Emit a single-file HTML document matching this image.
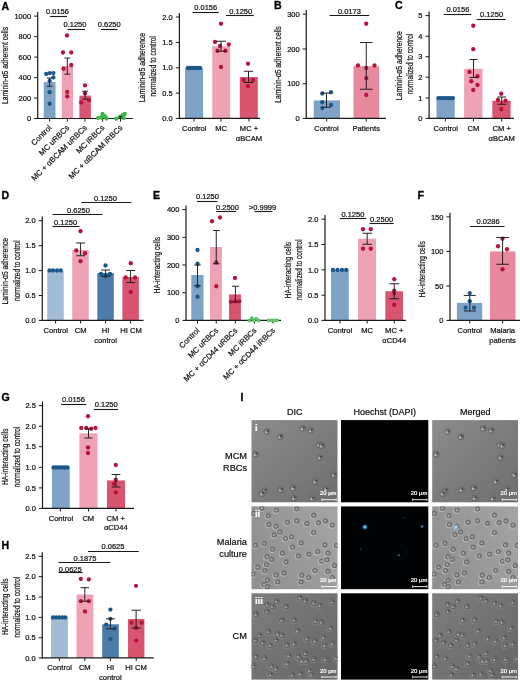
<!DOCTYPE html>
<html><head><meta charset="utf-8"><title>Figure</title>
<style>html,body{margin:0;padding:0;background:#fff;}svg{display:block;will-change:transform;}</style></head><body>
<svg width="520" height="682" viewBox="0 0 520 682" font-family='"Liberation Sans", Arial, Helvetica, sans-serif'>
<rect width="520" height="682" fill="#fff"/>
<text transform="translate(1.5,9.5) scale(1.05,1)" font-size="10.1" font-weight="bold" fill="#000" stroke="#000" stroke-width="0.3">A</text>
<text transform="translate(274.0,9.3) scale(1.05,1)" font-size="10.1" font-weight="bold" fill="#000" stroke="#000" stroke-width="0.3">B</text>
<text transform="translate(395.0,9.4) scale(1.05,1)" font-size="10.1" font-weight="bold" fill="#000" stroke="#000" stroke-width="0.3">C</text>
<text transform="translate(1.4,198.8) scale(1.05,1)" font-size="10.1" font-weight="bold" fill="#000" stroke="#000" stroke-width="0.3">D</text>
<text transform="translate(153.1,198.8) scale(1.05,1)" font-size="10.1" font-weight="bold" fill="#000" stroke="#000" stroke-width="0.3">E</text>
<text transform="translate(417.4,198.8) scale(1.05,1)" font-size="10.1" font-weight="bold" fill="#000" stroke="#000" stroke-width="0.3">F</text>
<text transform="translate(1.6,400.5) scale(1.05,1)" font-size="10.1" font-weight="bold" fill="#000" stroke="#000" stroke-width="0.3">G</text>
<text transform="translate(1.4,548.6) scale(1.05,1)" font-size="10.1" font-weight="bold" fill="#000" stroke="#000" stroke-width="0.3">H</text>
<text transform="translate(240.4,400.6) scale(1.05,1)" font-size="10.1" font-weight="bold" fill="#000" stroke="#000" stroke-width="0.3">I</text>
<rect x="43.75" y="82.00" width="11.75" height="36.50" fill="#7fa2c7"/>
<rect x="61.80" y="66.00" width="11.30" height="52.50" fill="#efa2b3"/>
<rect x="79.40" y="95.60" width="11.50" height="22.90" fill="#d9546f"/>
<line x1="37.70" y1="12.00" x2="37.70" y2="119.10" stroke="#1a1a1a" stroke-width="1.2"/>
<line x1="37.10" y1="118.50" x2="132.80" y2="118.50" stroke="#1a1a1a" stroke-width="1.2"/>
<line x1="34.10" y1="16.10" x2="37.70" y2="16.10" stroke="#1a1a1a" stroke-width="1.0"/>
<text x="31.10" y="18.75" font-size="7.5" text-anchor="end" font-weight="normal" fill="#111" stroke="#111" stroke-width="0.22" >1000</text>
<line x1="34.10" y1="36.60" x2="37.70" y2="36.60" stroke="#1a1a1a" stroke-width="1.0"/>
<text x="31.10" y="39.25" font-size="7.5" text-anchor="end" font-weight="normal" fill="#111" stroke="#111" stroke-width="0.22" >800</text>
<line x1="34.10" y1="57.10" x2="37.70" y2="57.10" stroke="#1a1a1a" stroke-width="1.0"/>
<text x="31.10" y="59.75" font-size="7.5" text-anchor="end" font-weight="normal" fill="#111" stroke="#111" stroke-width="0.22" >600</text>
<line x1="34.10" y1="77.60" x2="37.70" y2="77.60" stroke="#1a1a1a" stroke-width="1.0"/>
<text x="31.10" y="80.25" font-size="7.5" text-anchor="end" font-weight="normal" fill="#111" stroke="#111" stroke-width="0.22" >400</text>
<line x1="34.10" y1="98.10" x2="37.70" y2="98.10" stroke="#1a1a1a" stroke-width="1.0"/>
<text x="31.10" y="100.75" font-size="7.5" text-anchor="end" font-weight="normal" fill="#111" stroke="#111" stroke-width="0.22" >200</text>
<line x1="34.10" y1="118.50" x2="37.70" y2="118.50" stroke="#1a1a1a" stroke-width="1.0"/>
<text x="31.10" y="121.15" font-size="7.5" text-anchor="end" font-weight="normal" fill="#111" stroke="#111" stroke-width="0.22" >0</text>
<line x1="49.60" y1="118.50" x2="49.60" y2="121.60" stroke="#1a1a1a" stroke-width="1.0"/>
<line x1="67.30" y1="118.50" x2="67.30" y2="121.60" stroke="#1a1a1a" stroke-width="1.0"/>
<line x1="85.00" y1="118.50" x2="85.00" y2="121.60" stroke="#1a1a1a" stroke-width="1.0"/>
<line x1="102.60" y1="118.50" x2="102.60" y2="121.60" stroke="#1a1a1a" stroke-width="1.0"/>
<line x1="120.50" y1="118.50" x2="120.50" y2="121.60" stroke="#1a1a1a" stroke-width="1.0"/>
<circle cx="46.20" cy="74.00" r="2.15" fill="#1a588c"/>
<circle cx="49.75" cy="73.10" r="2.15" fill="#1a588c"/>
<circle cx="53.40" cy="73.10" r="2.15" fill="#1a588c"/>
<circle cx="53.40" cy="77.50" r="2.15" fill="#1a588c"/>
<circle cx="49.60" cy="81.00" r="2.15" fill="#1a588c"/>
<circle cx="49.60" cy="92.25" r="2.15" fill="#1a588c"/>
<circle cx="49.60" cy="103.75" r="2.15" fill="#1a588c"/>
<circle cx="67.00" cy="35.50" r="2.15" fill="#b8143b"/>
<circle cx="63.00" cy="52.50" r="2.15" fill="#b8143b"/>
<circle cx="71.25" cy="52.50" r="2.15" fill="#b8143b"/>
<circle cx="71.25" cy="65.00" r="2.15" fill="#b8143b"/>
<circle cx="63.50" cy="68.75" r="2.15" fill="#b8143b"/>
<circle cx="67.25" cy="91.90" r="2.15" fill="#b8143b"/>
<circle cx="67.25" cy="96.50" r="2.15" fill="#b8143b"/>
<circle cx="85.00" cy="85.40" r="2.15" fill="#b8143b"/>
<circle cx="85.00" cy="93.40" r="2.15" fill="#b8143b"/>
<circle cx="89.00" cy="100.00" r="2.15" fill="#b8143b"/>
<circle cx="81.25" cy="102.50" r="2.15" fill="#b8143b"/>
<circle cx="98.10" cy="118.10" r="2.15" fill="#3cb44a"/>
<circle cx="102.50" cy="114.00" r="2.15" fill="#3cb44a"/>
<circle cx="105.00" cy="116.25" r="2.15" fill="#3cb44a"/>
<circle cx="101.25" cy="117.50" r="2.15" fill="#3cb44a"/>
<circle cx="106.50" cy="118.50" r="2.15" fill="#3cb44a"/>
<circle cx="116.25" cy="118.70" r="2.15" fill="#3cb44a"/>
<circle cx="120.00" cy="116.90" r="2.15" fill="#3cb44a"/>
<circle cx="122.50" cy="115.25" r="2.15" fill="#3cb44a"/>
<circle cx="124.75" cy="114.00" r="2.15" fill="#3cb44a"/>
<circle cx="123.75" cy="118.10" r="2.15" fill="#3cb44a"/>
<line x1="49.60" y1="78.00" x2="49.60" y2="86.25" stroke="#1a1a1a" stroke-width="0.95"/>
<line x1="46.80" y1="78.00" x2="52.40" y2="78.00" stroke="#1a1a1a" stroke-width="0.95"/>
<line x1="46.80" y1="86.25" x2="52.40" y2="86.25" stroke="#1a1a1a" stroke-width="0.95"/>
<line x1="67.30" y1="58.00" x2="67.30" y2="74.10" stroke="#1a1a1a" stroke-width="0.95"/>
<line x1="64.40" y1="58.00" x2="70.20" y2="58.00" stroke="#1a1a1a" stroke-width="0.95"/>
<line x1="64.40" y1="74.10" x2="70.20" y2="74.10" stroke="#1a1a1a" stroke-width="0.95"/>
<line x1="85.10" y1="91.25" x2="85.10" y2="99.10" stroke="#1a1a1a" stroke-width="0.95"/>
<line x1="82.20" y1="91.25" x2="88.00" y2="91.25" stroke="#1a1a1a" stroke-width="0.95"/>
<line x1="82.20" y1="99.10" x2="88.00" y2="99.10" stroke="#1a1a1a" stroke-width="0.95"/>
<line x1="120.50" y1="116.40" x2="120.50" y2="118.20" stroke="#1a1a1a" stroke-width="0.95"/>
<line x1="118.90" y1="116.40" x2="122.10" y2="116.40" stroke="#1a1a1a" stroke-width="0.95"/>
<line x1="118.90" y1="118.20" x2="122.10" y2="118.20" stroke="#1a1a1a" stroke-width="0.95"/>
<text x="57.50" y="14.20" font-size="7.5" text-anchor="middle" font-weight="normal" fill="#111" stroke="#111" stroke-width="0.22" >0.0156</text>
<line x1="50.00" y1="16.50" x2="67.00" y2="16.50" stroke="#1a1a1a" stroke-width="1.1"/>
<text x="75.00" y="27.20" font-size="7.5" text-anchor="middle" font-weight="normal" fill="#111" stroke="#111" stroke-width="0.22" >0.1250</text>
<line x1="67.50" y1="29.50" x2="85.00" y2="29.50" stroke="#1a1a1a" stroke-width="1.1"/>
<text x="109.20" y="27.20" font-size="7.5" text-anchor="middle" font-weight="normal" fill="#111" stroke="#111" stroke-width="0.22" >0.6250</text>
<line x1="101.00" y1="29.50" x2="117.50" y2="29.50" stroke="#1a1a1a" stroke-width="1.1"/>
<text transform="translate(8.40,65.50) rotate(-90)" font-size="8.2" text-anchor="middle" fill="#111" stroke="#111" stroke-width="0.2" textLength="77.20" lengthAdjust="spacingAndGlyphs">Laminin-α5 adherent cells</text>
<text transform="translate(52.00,128.30) rotate(-45)" font-size="7.8" text-anchor="end" fill="#111" stroke="#111" stroke-width="0.2">Control</text>
<text transform="translate(69.70,128.30) rotate(-45)" font-size="7.8" text-anchor="end" fill="#111" stroke="#111" stroke-width="0.2">MC uRBCs</text>
<text transform="translate(87.40,128.30) rotate(-45)" font-size="7.8" text-anchor="end" fill="#111" stroke="#111" stroke-width="0.2">MC + αBCAM uRBCs</text>
<text transform="translate(105.00,128.30) rotate(-45)" font-size="7.8" text-anchor="end" fill="#111" stroke="#111" stroke-width="0.2">MC iRBCs</text>
<text transform="translate(122.90,128.30) rotate(-45)" font-size="7.8" text-anchor="end" fill="#111" stroke="#111" stroke-width="0.2">MC + αBCAM iRBCs</text>
<rect x="185.00" y="67.80" width="18.10" height="50.60" fill="#7fa2c7"/>
<rect x="212.25" y="46.25" width="17.95" height="72.15" fill="#efa2b3"/>
<rect x="239.80" y="77.00" width="18.00" height="41.40" fill="#d9546f"/>
<line x1="179.40" y1="12.90" x2="179.40" y2="119.00" stroke="#1a1a1a" stroke-width="1.2"/>
<line x1="178.80" y1="118.40" x2="260.00" y2="118.40" stroke="#1a1a1a" stroke-width="1.2"/>
<line x1="175.80" y1="17.00" x2="179.40" y2="17.00" stroke="#1a1a1a" stroke-width="1.0"/>
<text x="172.80" y="19.65" font-size="7.5" text-anchor="end" font-weight="normal" fill="#111" stroke="#111" stroke-width="0.22" >2.0</text>
<line x1="175.80" y1="42.40" x2="179.40" y2="42.40" stroke="#1a1a1a" stroke-width="1.0"/>
<text x="172.80" y="45.05" font-size="7.5" text-anchor="end" font-weight="normal" fill="#111" stroke="#111" stroke-width="0.22" >1.5</text>
<line x1="175.80" y1="67.80" x2="179.40" y2="67.80" stroke="#1a1a1a" stroke-width="1.0"/>
<text x="172.80" y="70.45" font-size="7.5" text-anchor="end" font-weight="normal" fill="#111" stroke="#111" stroke-width="0.22" >1.0</text>
<line x1="175.80" y1="93.10" x2="179.40" y2="93.10" stroke="#1a1a1a" stroke-width="1.0"/>
<text x="172.80" y="95.75" font-size="7.5" text-anchor="end" font-weight="normal" fill="#111" stroke="#111" stroke-width="0.22" >0.5</text>
<line x1="175.80" y1="118.40" x2="179.40" y2="118.40" stroke="#1a1a1a" stroke-width="1.0"/>
<text x="172.80" y="121.05" font-size="7.5" text-anchor="end" font-weight="normal" fill="#111" stroke="#111" stroke-width="0.22" >0.0</text>
<line x1="194.00" y1="118.40" x2="194.00" y2="121.50" stroke="#1a1a1a" stroke-width="1.0"/>
<line x1="221.00" y1="118.40" x2="221.00" y2="121.50" stroke="#1a1a1a" stroke-width="1.0"/>
<line x1="249.00" y1="118.40" x2="249.00" y2="121.50" stroke="#1a1a1a" stroke-width="1.0"/>
<circle cx="188.00" cy="68.00" r="2.15" fill="#1a588c"/>
<circle cx="190.00" cy="68.00" r="2.15" fill="#1a588c"/>
<circle cx="192.00" cy="68.00" r="2.15" fill="#1a588c"/>
<circle cx="194.00" cy="68.00" r="2.15" fill="#1a588c"/>
<circle cx="196.00" cy="68.00" r="2.15" fill="#1a588c"/>
<circle cx="198.00" cy="68.00" r="2.15" fill="#1a588c"/>
<circle cx="200.00" cy="68.00" r="2.15" fill="#1a588c"/>
<circle cx="221.00" cy="23.75" r="2.15" fill="#b8143b"/>
<circle cx="215.00" cy="42.00" r="2.15" fill="#b8143b"/>
<circle cx="228.75" cy="44.50" r="2.15" fill="#b8143b"/>
<circle cx="220.00" cy="46.00" r="2.15" fill="#b8143b"/>
<circle cx="217.50" cy="50.75" r="2.15" fill="#b8143b"/>
<circle cx="225.50" cy="50.75" r="2.15" fill="#b8143b"/>
<circle cx="221.00" cy="67.00" r="2.15" fill="#b8143b"/>
<circle cx="248.00" cy="63.75" r="2.15" fill="#b8143b"/>
<circle cx="243.75" cy="80.00" r="2.15" fill="#b8143b"/>
<circle cx="253.00" cy="80.00" r="2.15" fill="#b8143b"/>
<circle cx="248.00" cy="86.25" r="2.15" fill="#b8143b"/>
<line x1="221.00" y1="41.25" x2="221.00" y2="51.25" stroke="#1a1a1a" stroke-width="0.95"/>
<line x1="216.00" y1="41.25" x2="226.00" y2="41.25" stroke="#1a1a1a" stroke-width="0.95"/>
<line x1="216.00" y1="51.25" x2="226.00" y2="51.25" stroke="#1a1a1a" stroke-width="0.95"/>
<line x1="248.50" y1="71.25" x2="248.50" y2="82.50" stroke="#1a1a1a" stroke-width="0.95"/>
<line x1="243.80" y1="71.25" x2="253.20" y2="71.25" stroke="#1a1a1a" stroke-width="0.95"/>
<line x1="243.80" y1="82.50" x2="253.20" y2="82.50" stroke="#1a1a1a" stroke-width="0.95"/>
<text x="205.70" y="10.40" font-size="7.5" text-anchor="middle" font-weight="normal" fill="#111" stroke="#111" stroke-width="0.22" >0.0156</text>
<line x1="192.50" y1="12.50" x2="218.75" y2="12.50" stroke="#1a1a1a" stroke-width="1.1"/>
<text x="240.70" y="13.60" font-size="7.5" text-anchor="middle" font-weight="normal" fill="#111" stroke="#111" stroke-width="0.22" >0.1250</text>
<line x1="226.00" y1="15.50" x2="253.75" y2="15.50" stroke="#1a1a1a" stroke-width="1.1"/>
<text transform="translate(145.30,67.60) rotate(-90)" font-size="8.2" text-anchor="middle" fill="#111" stroke="#111" stroke-width="0.2" textLength="69.50" lengthAdjust="spacingAndGlyphs">Laminin-α5 adherence</text>
<text transform="translate(156.30,66.30) rotate(-90)" font-size="8.2" text-anchor="middle" fill="#111" stroke="#111" stroke-width="0.2" textLength="60.40" lengthAdjust="spacingAndGlyphs">normalized to control</text>
<text x="194.20" y="131.20" font-size="7.6" text-anchor="middle" font-weight="normal" fill="#111" stroke="#111" stroke-width="0.22" >Control</text>
<text x="221.20" y="131.20" font-size="7.6" text-anchor="middle" font-weight="normal" fill="#111" stroke="#111" stroke-width="0.22" >MC</text>
<text x="249.00" y="131.20" font-size="7.6" text-anchor="middle" font-weight="normal" fill="#111" stroke="#111" stroke-width="0.22" >MC +</text>
<text x="249.00" y="141.00" font-size="7.6" text-anchor="middle" font-weight="normal" fill="#111" stroke="#111" stroke-width="0.22" >αBCAM</text>
<rect x="313.75" y="100.40" width="26.25" height="18.00" fill="#7fa2c7"/>
<rect x="353.50" y="66.25" width="25.70" height="52.15" fill="#e8899e"/>
<line x1="306.25" y1="10.10" x2="306.25" y2="119.00" stroke="#1a1a1a" stroke-width="1.2"/>
<line x1="305.65" y1="118.40" x2="386.00" y2="118.40" stroke="#1a1a1a" stroke-width="1.2"/>
<line x1="302.65" y1="14.20" x2="306.25" y2="14.20" stroke="#1a1a1a" stroke-width="1.0"/>
<text x="299.65" y="16.85" font-size="7.5" text-anchor="end" font-weight="normal" fill="#111" stroke="#111" stroke-width="0.22" >300</text>
<line x1="302.65" y1="49.00" x2="306.25" y2="49.00" stroke="#1a1a1a" stroke-width="1.0"/>
<text x="299.65" y="51.65" font-size="7.5" text-anchor="end" font-weight="normal" fill="#111" stroke="#111" stroke-width="0.22" >200</text>
<line x1="302.65" y1="83.75" x2="306.25" y2="83.75" stroke="#1a1a1a" stroke-width="1.0"/>
<text x="299.65" y="86.40" font-size="7.5" text-anchor="end" font-weight="normal" fill="#111" stroke="#111" stroke-width="0.22" >100</text>
<line x1="302.65" y1="118.40" x2="306.25" y2="118.40" stroke="#1a1a1a" stroke-width="1.0"/>
<text x="299.65" y="121.05" font-size="7.5" text-anchor="end" font-weight="normal" fill="#111" stroke="#111" stroke-width="0.22" >0</text>
<line x1="326.70" y1="118.40" x2="326.70" y2="121.50" stroke="#1a1a1a" stroke-width="1.0"/>
<line x1="366.25" y1="118.40" x2="366.25" y2="121.50" stroke="#1a1a1a" stroke-width="1.0"/>
<circle cx="331.00" cy="92.25" r="2.15" fill="#1a588c"/>
<circle cx="322.25" cy="93.50" r="2.15" fill="#1a588c"/>
<circle cx="322.25" cy="102.25" r="2.15" fill="#1a588c"/>
<circle cx="331.00" cy="105.00" r="2.15" fill="#1a588c"/>
<circle cx="322.25" cy="108.10" r="2.15" fill="#1a588c"/>
<circle cx="366.25" cy="23.75" r="2.15" fill="#b8143b"/>
<circle cx="358.00" cy="65.50" r="2.15" fill="#b8143b"/>
<circle cx="366.25" cy="68.00" r="2.15" fill="#b8143b"/>
<circle cx="374.50" cy="65.50" r="2.15" fill="#b8143b"/>
<circle cx="366.25" cy="78.25" r="2.15" fill="#b8143b"/>
<circle cx="366.25" cy="95.00" r="2.15" fill="#b8143b"/>
<line x1="326.50" y1="93.10" x2="326.50" y2="107.25" stroke="#1a1a1a" stroke-width="0.95"/>
<line x1="322.00" y1="93.10" x2="331.00" y2="93.10" stroke="#1a1a1a" stroke-width="0.95"/>
<line x1="322.00" y1="107.25" x2="331.00" y2="107.25" stroke="#1a1a1a" stroke-width="0.95"/>
<line x1="366.25" y1="42.50" x2="366.25" y2="89.25" stroke="#1a1a1a" stroke-width="0.95"/>
<line x1="359.95" y1="42.50" x2="372.55" y2="42.50" stroke="#1a1a1a" stroke-width="0.95"/>
<line x1="359.95" y1="89.25" x2="372.55" y2="89.25" stroke="#1a1a1a" stroke-width="0.95"/>
<text x="349.40" y="13.60" font-size="7.5" text-anchor="middle" font-weight="normal" fill="#111" stroke="#111" stroke-width="0.22" >0.0173</text>
<line x1="329.50" y1="15.50" x2="369.25" y2="15.50" stroke="#1a1a1a" stroke-width="1.1"/>
<text transform="translate(280.90,64.40) rotate(-90)" font-size="8.2" text-anchor="middle" fill="#111" stroke="#111" stroke-width="0.2" textLength="76.70" lengthAdjust="spacingAndGlyphs">Laminin-α5 adherent cells</text>
<text x="326.40" y="131.20" font-size="7.6" text-anchor="middle" font-weight="normal" fill="#111" stroke="#111" stroke-width="0.22" >Control</text>
<text x="366.25" y="131.20" font-size="7.6" text-anchor="middle" font-weight="normal" fill="#111" stroke="#111" stroke-width="0.22" >Patients</text>
<rect x="436.50" y="98.00" width="18.25" height="20.40" fill="#7fa2c7"/>
<rect x="464.10" y="68.75" width="18.40" height="49.65" fill="#efa2b3"/>
<rect x="492.30" y="100.75" width="18.30" height="17.65" fill="#d9546f"/>
<line x1="429.10" y1="11.50" x2="429.10" y2="119.00" stroke="#1a1a1a" stroke-width="1.2"/>
<line x1="428.50" y1="118.40" x2="514.00" y2="118.40" stroke="#1a1a1a" stroke-width="1.2"/>
<line x1="425.50" y1="15.60" x2="429.10" y2="15.60" stroke="#1a1a1a" stroke-width="1.0"/>
<text x="422.50" y="18.25" font-size="7.5" text-anchor="end" font-weight="normal" fill="#111" stroke="#111" stroke-width="0.22" >5</text>
<line x1="425.50" y1="36.20" x2="429.10" y2="36.20" stroke="#1a1a1a" stroke-width="1.0"/>
<text x="422.50" y="38.85" font-size="7.5" text-anchor="end" font-weight="normal" fill="#111" stroke="#111" stroke-width="0.22" >4</text>
<line x1="425.50" y1="56.70" x2="429.10" y2="56.70" stroke="#1a1a1a" stroke-width="1.0"/>
<text x="422.50" y="59.35" font-size="7.5" text-anchor="end" font-weight="normal" fill="#111" stroke="#111" stroke-width="0.22" >3</text>
<line x1="425.50" y1="77.20" x2="429.10" y2="77.20" stroke="#1a1a1a" stroke-width="1.0"/>
<text x="422.50" y="79.85" font-size="7.5" text-anchor="end" font-weight="normal" fill="#111" stroke="#111" stroke-width="0.22" >2</text>
<line x1="425.50" y1="98.00" x2="429.10" y2="98.00" stroke="#1a1a1a" stroke-width="1.0"/>
<text x="422.50" y="100.65" font-size="7.5" text-anchor="end" font-weight="normal" fill="#111" stroke="#111" stroke-width="0.22" >1</text>
<line x1="425.50" y1="118.40" x2="429.10" y2="118.40" stroke="#1a1a1a" stroke-width="1.0"/>
<text x="422.50" y="121.05" font-size="7.5" text-anchor="end" font-weight="normal" fill="#111" stroke="#111" stroke-width="0.22" >0</text>
<line x1="445.40" y1="118.40" x2="445.40" y2="121.50" stroke="#1a1a1a" stroke-width="1.0"/>
<line x1="473.50" y1="118.40" x2="473.50" y2="121.50" stroke="#1a1a1a" stroke-width="1.0"/>
<line x1="501.70" y1="118.40" x2="501.70" y2="121.50" stroke="#1a1a1a" stroke-width="1.0"/>
<circle cx="438.40" cy="98.10" r="2.15" fill="#1a588c"/>
<circle cx="440.82" cy="98.10" r="2.15" fill="#1a588c"/>
<circle cx="443.24" cy="98.10" r="2.15" fill="#1a588c"/>
<circle cx="445.66" cy="98.10" r="2.15" fill="#1a588c"/>
<circle cx="448.08" cy="98.10" r="2.15" fill="#1a588c"/>
<circle cx="450.50" cy="98.10" r="2.15" fill="#1a588c"/>
<circle cx="452.92" cy="98.10" r="2.15" fill="#1a588c"/>
<circle cx="473.25" cy="25.75" r="2.15" fill="#b8143b"/>
<circle cx="473.25" cy="49.25" r="2.15" fill="#b8143b"/>
<circle cx="469.50" cy="72.00" r="2.15" fill="#b8143b"/>
<circle cx="477.50" cy="76.25" r="2.15" fill="#b8143b"/>
<circle cx="471.25" cy="81.25" r="2.15" fill="#b8143b"/>
<circle cx="477.50" cy="85.00" r="2.15" fill="#b8143b"/>
<circle cx="473.25" cy="90.00" r="2.15" fill="#b8143b"/>
<circle cx="501.25" cy="93.75" r="2.15" fill="#b8143b"/>
<circle cx="498.00" cy="100.00" r="2.15" fill="#b8143b"/>
<circle cx="505.50" cy="100.75" r="2.15" fill="#b8143b"/>
<circle cx="501.25" cy="109.25" r="2.15" fill="#b8143b"/>
<line x1="473.50" y1="59.50" x2="473.50" y2="77.50" stroke="#1a1a1a" stroke-width="0.95"/>
<line x1="469.50" y1="59.50" x2="477.50" y2="59.50" stroke="#1a1a1a" stroke-width="0.95"/>
<line x1="469.50" y1="77.50" x2="477.50" y2="77.50" stroke="#1a1a1a" stroke-width="0.95"/>
<line x1="501.70" y1="97.00" x2="501.70" y2="104.25" stroke="#1a1a1a" stroke-width="0.95"/>
<line x1="497.30" y1="97.00" x2="506.10" y2="97.00" stroke="#1a1a1a" stroke-width="0.95"/>
<line x1="497.30" y1="104.25" x2="506.10" y2="104.25" stroke="#1a1a1a" stroke-width="0.95"/>
<text x="457.90" y="12.40" font-size="7.5" text-anchor="middle" font-weight="normal" fill="#111" stroke="#111" stroke-width="0.22" >0.0156</text>
<line x1="443.75" y1="14.50" x2="471.25" y2="14.50" stroke="#1a1a1a" stroke-width="1.1"/>
<text x="491.60" y="17.40" font-size="7.5" text-anchor="middle" font-weight="normal" fill="#111" stroke="#111" stroke-width="0.22" >0.1250</text>
<line x1="476.75" y1="19.50" x2="505.75" y2="19.50" stroke="#1a1a1a" stroke-width="1.1"/>
<text transform="translate(401.80,65.70) rotate(-90)" font-size="8.2" text-anchor="middle" fill="#111" stroke="#111" stroke-width="0.2" textLength="69.10" lengthAdjust="spacingAndGlyphs">Laminin-α5 adherence</text>
<text transform="translate(413.10,64.00) rotate(-90)" font-size="8.2" text-anchor="middle" fill="#111" stroke="#111" stroke-width="0.2" textLength="60.70" lengthAdjust="spacingAndGlyphs">normalized to control</text>
<text x="445.70" y="131.20" font-size="7.6" text-anchor="middle" font-weight="normal" fill="#111" stroke="#111" stroke-width="0.22" >Control</text>
<text x="473.50" y="131.20" font-size="7.6" text-anchor="middle" font-weight="normal" fill="#111" stroke="#111" stroke-width="0.22" >CM</text>
<text x="501.70" y="131.20" font-size="7.6" text-anchor="middle" font-weight="normal" fill="#111" stroke="#111" stroke-width="0.22" >CM +</text>
<text x="501.70" y="141.00" font-size="7.6" text-anchor="middle" font-weight="normal" fill="#111" stroke="#111" stroke-width="0.22" >αBCAM</text>
<rect x="47.25" y="270.60" width="16.50" height="49.80" fill="#a3bcd6"/>
<rect x="72.25" y="250.00" width="16.50" height="70.40" fill="#efa2b3"/>
<rect x="97.30" y="273.00" width="16.50" height="47.40" fill="#4b7ba9"/>
<rect x="122.40" y="277.00" width="16.50" height="43.40" fill="#d9546f"/>
<line x1="42.25" y1="216.60" x2="42.25" y2="321.00" stroke="#1a1a1a" stroke-width="1.2"/>
<line x1="41.65" y1="320.40" x2="143.50" y2="320.40" stroke="#1a1a1a" stroke-width="1.2"/>
<line x1="38.65" y1="220.70" x2="42.25" y2="220.70" stroke="#1a1a1a" stroke-width="1.0"/>
<text x="35.65" y="223.35" font-size="7.5" text-anchor="end" font-weight="normal" fill="#111" stroke="#111" stroke-width="0.22" >2.0</text>
<line x1="38.65" y1="245.70" x2="42.25" y2="245.70" stroke="#1a1a1a" stroke-width="1.0"/>
<text x="35.65" y="248.35" font-size="7.5" text-anchor="end" font-weight="normal" fill="#111" stroke="#111" stroke-width="0.22" >1.5</text>
<line x1="38.65" y1="270.60" x2="42.25" y2="270.60" stroke="#1a1a1a" stroke-width="1.0"/>
<text x="35.65" y="273.25" font-size="7.5" text-anchor="end" font-weight="normal" fill="#111" stroke="#111" stroke-width="0.22" >1.0</text>
<line x1="38.65" y1="295.50" x2="42.25" y2="295.50" stroke="#1a1a1a" stroke-width="1.0"/>
<text x="35.65" y="298.15" font-size="7.5" text-anchor="end" font-weight="normal" fill="#111" stroke="#111" stroke-width="0.22" >0.5</text>
<line x1="38.65" y1="320.40" x2="42.25" y2="320.40" stroke="#1a1a1a" stroke-width="1.0"/>
<text x="35.65" y="323.05" font-size="7.5" text-anchor="end" font-weight="normal" fill="#111" stroke="#111" stroke-width="0.22" >0.0</text>
<line x1="55.60" y1="320.40" x2="55.60" y2="323.50" stroke="#1a1a1a" stroke-width="1.0"/>
<line x1="80.60" y1="320.40" x2="80.60" y2="323.50" stroke="#1a1a1a" stroke-width="1.0"/>
<line x1="105.60" y1="320.40" x2="105.60" y2="323.50" stroke="#1a1a1a" stroke-width="1.0"/>
<line x1="130.60" y1="320.40" x2="130.60" y2="323.50" stroke="#1a1a1a" stroke-width="1.0"/>
<circle cx="49.50" cy="270.50" r="2.15" fill="#1a588c"/>
<circle cx="53.00" cy="270.50" r="2.15" fill="#1a588c"/>
<circle cx="57.00" cy="270.50" r="2.15" fill="#1a588c"/>
<circle cx="60.75" cy="270.50" r="2.15" fill="#1a588c"/>
<circle cx="80.50" cy="231.25" r="2.15" fill="#b8143b"/>
<circle cx="76.25" cy="250.50" r="2.15" fill="#b8143b"/>
<circle cx="85.00" cy="253.25" r="2.15" fill="#b8143b"/>
<circle cx="80.50" cy="261.25" r="2.15" fill="#b8143b"/>
<circle cx="105.50" cy="265.50" r="2.15" fill="#1a588c"/>
<circle cx="101.00" cy="274.00" r="2.15" fill="#1a588c"/>
<circle cx="110.00" cy="274.00" r="2.15" fill="#1a588c"/>
<circle cx="105.50" cy="276.00" r="2.15" fill="#1a588c"/>
<circle cx="130.75" cy="263.25" r="2.15" fill="#b8143b"/>
<circle cx="125.75" cy="277.50" r="2.15" fill="#b8143b"/>
<circle cx="135.00" cy="277.50" r="2.15" fill="#b8143b"/>
<circle cx="130.75" cy="292.00" r="2.15" fill="#b8143b"/>
<line x1="80.60" y1="243.00" x2="80.60" y2="255.75" stroke="#1a1a1a" stroke-width="0.95"/>
<line x1="76.20" y1="243.00" x2="85.00" y2="243.00" stroke="#1a1a1a" stroke-width="0.95"/>
<line x1="76.20" y1="255.75" x2="85.00" y2="255.75" stroke="#1a1a1a" stroke-width="0.95"/>
<line x1="105.60" y1="270.00" x2="105.60" y2="276.25" stroke="#1a1a1a" stroke-width="0.95"/>
<line x1="101.10" y1="270.00" x2="110.10" y2="270.00" stroke="#1a1a1a" stroke-width="0.95"/>
<line x1="101.10" y1="276.25" x2="110.10" y2="276.25" stroke="#1a1a1a" stroke-width="0.95"/>
<line x1="130.60" y1="270.50" x2="130.60" y2="282.50" stroke="#1a1a1a" stroke-width="0.95"/>
<line x1="126.20" y1="270.50" x2="135.00" y2="270.50" stroke="#1a1a1a" stroke-width="0.95"/>
<line x1="126.20" y1="282.50" x2="135.00" y2="282.50" stroke="#1a1a1a" stroke-width="0.95"/>
<text x="65.60" y="225.00" font-size="7.5" text-anchor="middle" font-weight="normal" fill="#111" stroke="#111" stroke-width="0.22" >0.1250</text>
<line x1="52.50" y1="226.50" x2="79.50" y2="226.50" stroke="#1a1a1a" stroke-width="1.1"/>
<text x="78.50" y="213.00" font-size="7.5" text-anchor="middle" font-weight="normal" fill="#111" stroke="#111" stroke-width="0.22" >0.6250</text>
<line x1="52.50" y1="214.50" x2="102.50" y2="214.50" stroke="#1a1a1a" stroke-width="1.1"/>
<text x="105.40" y="201.00" font-size="7.5" text-anchor="middle" font-weight="normal" fill="#111" stroke="#111" stroke-width="0.22" >0.1250</text>
<line x1="81.25" y1="202.50" x2="131.25" y2="202.50" stroke="#1a1a1a" stroke-width="1.1"/>
<text transform="translate(8.10,271.20) rotate(-90)" font-size="8.2" text-anchor="middle" fill="#111" stroke="#111" stroke-width="0.2" textLength="66.50" lengthAdjust="spacingAndGlyphs">Laminin-α5 adherence</text>
<text transform="translate(19.60,270.60) rotate(-90)" font-size="8.2" text-anchor="middle" fill="#111" stroke="#111" stroke-width="0.2" textLength="60.60" lengthAdjust="spacingAndGlyphs">normalized to control</text>
<text x="55.70" y="332.90" font-size="7.6" text-anchor="middle" font-weight="normal" fill="#111" stroke="#111" stroke-width="0.22" >Control</text>
<text x="80.60" y="332.90" font-size="7.6" text-anchor="middle" font-weight="normal" fill="#111" stroke="#111" stroke-width="0.22" >CM</text>
<text x="105.60" y="332.90" font-size="7.6" text-anchor="middle" font-weight="normal" fill="#111" stroke="#111" stroke-width="0.22" >HI</text>
<text x="105.60" y="342.60" font-size="7.6" text-anchor="middle" font-weight="normal" fill="#111" stroke="#111" stroke-width="0.22" >control</text>
<text x="131.00" y="332.90" font-size="7.6" text-anchor="middle" font-weight="normal" fill="#111" stroke="#111" stroke-width="0.22" >HI CM</text>
<rect x="191.25" y="275.00" width="12.25" height="45.40" fill="#7fa2c7"/>
<rect x="210.00" y="247.00" width="11.90" height="73.40" fill="#efa2b3"/>
<rect x="229.00" y="294.40" width="11.90" height="26.00" fill="#d9546f"/>
<line x1="186.00" y1="205.50" x2="186.00" y2="321.00" stroke="#1a1a1a" stroke-width="1.2"/>
<line x1="185.40" y1="320.40" x2="281.00" y2="320.40" stroke="#1a1a1a" stroke-width="1.2"/>
<line x1="182.40" y1="209.60" x2="186.00" y2="209.60" stroke="#1a1a1a" stroke-width="1.0"/>
<text x="179.40" y="212.25" font-size="7.5" text-anchor="end" font-weight="normal" fill="#111" stroke="#111" stroke-width="0.22" >400</text>
<line x1="182.40" y1="237.30" x2="186.00" y2="237.30" stroke="#1a1a1a" stroke-width="1.0"/>
<text x="179.40" y="239.95" font-size="7.5" text-anchor="end" font-weight="normal" fill="#111" stroke="#111" stroke-width="0.22" >300</text>
<line x1="182.40" y1="265.00" x2="186.00" y2="265.00" stroke="#1a1a1a" stroke-width="1.0"/>
<text x="179.40" y="267.65" font-size="7.5" text-anchor="end" font-weight="normal" fill="#111" stroke="#111" stroke-width="0.22" >200</text>
<line x1="182.40" y1="292.75" x2="186.00" y2="292.75" stroke="#1a1a1a" stroke-width="1.0"/>
<text x="179.40" y="295.40" font-size="7.5" text-anchor="end" font-weight="normal" fill="#111" stroke="#111" stroke-width="0.22" >100</text>
<line x1="182.40" y1="320.40" x2="186.00" y2="320.40" stroke="#1a1a1a" stroke-width="1.0"/>
<text x="179.40" y="323.05" font-size="7.5" text-anchor="end" font-weight="normal" fill="#111" stroke="#111" stroke-width="0.22" >0</text>
<line x1="197.50" y1="320.40" x2="197.50" y2="323.50" stroke="#1a1a1a" stroke-width="1.0"/>
<line x1="216.25" y1="320.40" x2="216.25" y2="323.50" stroke="#1a1a1a" stroke-width="1.0"/>
<line x1="235.40" y1="320.40" x2="235.40" y2="323.50" stroke="#1a1a1a" stroke-width="1.0"/>
<line x1="254.50" y1="320.40" x2="254.50" y2="323.50" stroke="#1a1a1a" stroke-width="1.0"/>
<line x1="273.00" y1="320.40" x2="273.00" y2="323.50" stroke="#1a1a1a" stroke-width="1.0"/>
<circle cx="197.50" cy="250.00" r="2.15" fill="#1a588c"/>
<circle cx="197.50" cy="263.75" r="2.15" fill="#1a588c"/>
<circle cx="197.50" cy="286.25" r="2.15" fill="#1a588c"/>
<circle cx="197.50" cy="296.75" r="2.15" fill="#1a588c"/>
<circle cx="212.00" cy="221.25" r="2.15" fill="#b8143b"/>
<circle cx="220.00" cy="217.50" r="2.15" fill="#b8143b"/>
<circle cx="216.25" cy="262.50" r="2.15" fill="#b8143b"/>
<circle cx="216.25" cy="286.25" r="2.15" fill="#b8143b"/>
<circle cx="235.00" cy="278.00" r="2.15" fill="#b8143b"/>
<circle cx="230.80" cy="301.80" r="2.15" fill="#b8143b"/>
<circle cx="239.30" cy="301.30" r="2.15" fill="#b8143b"/>
<circle cx="235.20" cy="301.30" r="2.15" fill="#b8143b"/>
<circle cx="249.40" cy="320.60" r="1.45" fill="#7fcf86" stroke="#3cb44a" stroke-width="0.9"/>
<circle cx="251.90" cy="318.20" r="1.45" fill="#7fcf86" stroke="#3cb44a" stroke-width="0.9"/>
<circle cx="254.00" cy="320.60" r="1.45" fill="#7fcf86" stroke="#3cb44a" stroke-width="0.9"/>
<circle cx="256.25" cy="318.80" r="1.45" fill="#7fcf86" stroke="#3cb44a" stroke-width="0.9"/>
<circle cx="258.50" cy="320.60" r="1.45" fill="#7fcf86" stroke="#3cb44a" stroke-width="0.9"/>
<circle cx="268.75" cy="320.50" r="1.45" fill="#7fcf86" stroke="#3cb44a" stroke-width="0.9"/>
<circle cx="271.90" cy="320.40" r="1.45" fill="#7fcf86" stroke="#3cb44a" stroke-width="0.9"/>
<circle cx="274.40" cy="320.50" r="1.45" fill="#7fcf86" stroke="#3cb44a" stroke-width="0.9"/>
<circle cx="276.90" cy="320.40" r="1.45" fill="#7fcf86" stroke="#3cb44a" stroke-width="0.9"/>
<line x1="197.50" y1="265.00" x2="197.50" y2="285.75" stroke="#1a1a1a" stroke-width="0.95"/>
<line x1="194.30" y1="265.00" x2="200.70" y2="265.00" stroke="#1a1a1a" stroke-width="0.95"/>
<line x1="194.30" y1="285.75" x2="200.70" y2="285.75" stroke="#1a1a1a" stroke-width="0.95"/>
<line x1="216.25" y1="230.50" x2="216.25" y2="263.75" stroke="#1a1a1a" stroke-width="0.95"/>
<line x1="212.95" y1="230.50" x2="219.55" y2="230.50" stroke="#1a1a1a" stroke-width="0.95"/>
<line x1="212.95" y1="263.75" x2="219.55" y2="263.75" stroke="#1a1a1a" stroke-width="0.95"/>
<line x1="235.40" y1="286.25" x2="235.40" y2="302.00" stroke="#1a1a1a" stroke-width="0.95"/>
<line x1="232.00" y1="286.25" x2="238.80" y2="286.25" stroke="#1a1a1a" stroke-width="0.95"/>
<line x1="232.00" y1="302.00" x2="238.80" y2="302.00" stroke="#1a1a1a" stroke-width="0.95"/>
<text x="207.50" y="199.20" font-size="7.5" text-anchor="middle" font-weight="normal" fill="#111" stroke="#111" stroke-width="0.22" >0.1250</text>
<line x1="197.00" y1="201.50" x2="217.50" y2="201.50" stroke="#1a1a1a" stroke-width="1.1"/>
<text x="227.50" y="209.70" font-size="7.5" text-anchor="middle" font-weight="normal" fill="#111" stroke="#111" stroke-width="0.22" >0.2500</text>
<line x1="216.25" y1="211.50" x2="236.25" y2="211.50" stroke="#1a1a1a" stroke-width="1.1"/>
<text x="262.50" y="209.70" font-size="7.5" text-anchor="middle" font-weight="normal" fill="#111" stroke="#111" stroke-width="0.22" >&gt;0.9999</text>
<line x1="254.50" y1="211.50" x2="272.50" y2="211.50" stroke="#1a1a1a" stroke-width="1.1"/>
<text transform="translate(160.30,265.10) rotate(-90)" font-size="8.2" text-anchor="middle" fill="#111" stroke="#111" stroke-width="0.2" textLength="56.40" lengthAdjust="spacingAndGlyphs">HA-interacting cells</text>
<text transform="translate(200.10,330.90) rotate(-45)" font-size="7.8" text-anchor="end" fill="#111" stroke="#111" stroke-width="0.2">Control</text>
<text transform="translate(218.85,330.90) rotate(-45)" font-size="7.8" text-anchor="end" fill="#111" stroke="#111" stroke-width="0.2">MC uRBCs</text>
<text transform="translate(238.00,330.90) rotate(-45)" font-size="7.8" text-anchor="end" fill="#111" stroke="#111" stroke-width="0.2">MC + αCD44 uRBCs</text>
<text transform="translate(257.10,330.90) rotate(-45)" font-size="7.8" text-anchor="end" fill="#111" stroke="#111" stroke-width="0.2">MC iRBCs</text>
<text transform="translate(275.60,330.90) rotate(-45)" font-size="7.8" text-anchor="end" fill="#111" stroke="#111" stroke-width="0.2">MC + αCD44 iRBCs</text>
<rect x="331.00" y="269.90" width="17.75" height="50.50" fill="#7fa2c7"/>
<rect x="358.10" y="238.75" width="17.90" height="81.65" fill="#efa2b3"/>
<rect x="385.30" y="291.25" width="17.70" height="29.15" fill="#d9546f"/>
<line x1="325.00" y1="215.10" x2="325.00" y2="321.00" stroke="#1a1a1a" stroke-width="1.2"/>
<line x1="324.40" y1="320.40" x2="406.00" y2="320.40" stroke="#1a1a1a" stroke-width="1.2"/>
<line x1="321.40" y1="219.20" x2="325.00" y2="219.20" stroke="#1a1a1a" stroke-width="1.0"/>
<text x="318.40" y="221.85" font-size="7.5" text-anchor="end" font-weight="normal" fill="#111" stroke="#111" stroke-width="0.22" >2.0</text>
<line x1="321.40" y1="244.50" x2="325.00" y2="244.50" stroke="#1a1a1a" stroke-width="1.0"/>
<text x="318.40" y="247.15" font-size="7.5" text-anchor="end" font-weight="normal" fill="#111" stroke="#111" stroke-width="0.22" >1.5</text>
<line x1="321.40" y1="269.90" x2="325.00" y2="269.90" stroke="#1a1a1a" stroke-width="1.0"/>
<text x="318.40" y="272.55" font-size="7.5" text-anchor="end" font-weight="normal" fill="#111" stroke="#111" stroke-width="0.22" >1.0</text>
<line x1="321.40" y1="295.20" x2="325.00" y2="295.20" stroke="#1a1a1a" stroke-width="1.0"/>
<text x="318.40" y="297.85" font-size="7.5" text-anchor="end" font-weight="normal" fill="#111" stroke="#111" stroke-width="0.22" >0.5</text>
<line x1="321.40" y1="320.40" x2="325.00" y2="320.40" stroke="#1a1a1a" stroke-width="1.0"/>
<text x="318.40" y="323.05" font-size="7.5" text-anchor="end" font-weight="normal" fill="#111" stroke="#111" stroke-width="0.22" >0.0</text>
<line x1="340.00" y1="320.40" x2="340.00" y2="323.50" stroke="#1a1a1a" stroke-width="1.0"/>
<line x1="367.20" y1="320.40" x2="367.20" y2="323.50" stroke="#1a1a1a" stroke-width="1.0"/>
<line x1="394.25" y1="320.40" x2="394.25" y2="323.50" stroke="#1a1a1a" stroke-width="1.0"/>
<circle cx="333.00" cy="270.00" r="2.15" fill="#1a588c"/>
<circle cx="337.50" cy="270.00" r="2.15" fill="#1a588c"/>
<circle cx="342.00" cy="270.00" r="2.15" fill="#1a588c"/>
<circle cx="346.25" cy="270.00" r="2.15" fill="#1a588c"/>
<circle cx="363.00" cy="229.25" r="2.15" fill="#b8143b"/>
<circle cx="370.75" cy="229.25" r="2.15" fill="#b8143b"/>
<circle cx="363.00" cy="248.75" r="2.15" fill="#b8143b"/>
<circle cx="370.75" cy="248.75" r="2.15" fill="#b8143b"/>
<circle cx="394.25" cy="279.25" r="2.15" fill="#b8143b"/>
<circle cx="394.25" cy="290.75" r="2.15" fill="#b8143b"/>
<circle cx="394.25" cy="293.00" r="2.15" fill="#b8143b"/>
<circle cx="394.25" cy="305.00" r="2.15" fill="#b8143b"/>
<line x1="367.20" y1="233.25" x2="367.20" y2="244.25" stroke="#1a1a1a" stroke-width="0.95"/>
<line x1="362.40" y1="233.25" x2="372.00" y2="233.25" stroke="#1a1a1a" stroke-width="0.95"/>
<line x1="362.40" y1="244.25" x2="372.00" y2="244.25" stroke="#1a1a1a" stroke-width="0.95"/>
<line x1="394.25" y1="283.75" x2="394.25" y2="298.75" stroke="#1a1a1a" stroke-width="0.95"/>
<line x1="389.45" y1="283.75" x2="399.05" y2="283.75" stroke="#1a1a1a" stroke-width="0.95"/>
<line x1="389.45" y1="298.75" x2="399.05" y2="298.75" stroke="#1a1a1a" stroke-width="0.95"/>
<text x="352.90" y="217.00" font-size="7.5" text-anchor="middle" font-weight="normal" fill="#111" stroke="#111" stroke-width="0.22" >0.1250</text>
<line x1="340.00" y1="218.50" x2="366.25" y2="218.50" stroke="#1a1a1a" stroke-width="1.1"/>
<text x="381.60" y="221.60" font-size="7.5" text-anchor="middle" font-weight="normal" fill="#111" stroke="#111" stroke-width="0.22" >0.2500</text>
<line x1="369.50" y1="223.50" x2="393.75" y2="223.50" stroke="#1a1a1a" stroke-width="1.1"/>
<text transform="translate(291.00,270.10) rotate(-90)" font-size="8.2" text-anchor="middle" fill="#111" stroke="#111" stroke-width="0.2" textLength="56.40" lengthAdjust="spacingAndGlyphs">HA-interacting cells</text>
<text transform="translate(302.40,269.70) rotate(-90)" font-size="8.2" text-anchor="middle" fill="#111" stroke="#111" stroke-width="0.2" textLength="60.60" lengthAdjust="spacingAndGlyphs">normalized to control</text>
<text x="340.00" y="332.90" font-size="7.6" text-anchor="middle" font-weight="normal" fill="#111" stroke="#111" stroke-width="0.22" >Control</text>
<text x="367.20" y="332.90" font-size="7.6" text-anchor="middle" font-weight="normal" fill="#111" stroke="#111" stroke-width="0.22" >MC</text>
<text x="394.25" y="332.90" font-size="7.6" text-anchor="middle" font-weight="normal" fill="#111" stroke="#111" stroke-width="0.22" >MC +</text>
<text x="394.25" y="342.60" font-size="7.6" text-anchor="middle" font-weight="normal" fill="#111" stroke="#111" stroke-width="0.22" >αCD44</text>
<rect x="456.90" y="302.90" width="25.35" height="17.50" fill="#7fa2c7"/>
<rect x="490.00" y="251.40" width="25.50" height="69.00" fill="#e8899e"/>
<line x1="450.00" y1="212.80" x2="450.00" y2="321.00" stroke="#1a1a1a" stroke-width="1.2"/>
<line x1="449.40" y1="320.40" x2="520.00" y2="320.40" stroke="#1a1a1a" stroke-width="1.2"/>
<line x1="446.40" y1="216.90" x2="450.00" y2="216.90" stroke="#1a1a1a" stroke-width="1.0"/>
<text x="443.40" y="219.55" font-size="7.5" text-anchor="end" font-weight="normal" fill="#111" stroke="#111" stroke-width="0.22" >150</text>
<line x1="446.40" y1="251.40" x2="450.00" y2="251.40" stroke="#1a1a1a" stroke-width="1.0"/>
<text x="443.40" y="254.05" font-size="7.5" text-anchor="end" font-weight="normal" fill="#111" stroke="#111" stroke-width="0.22" >100</text>
<line x1="446.40" y1="286.00" x2="450.00" y2="286.00" stroke="#1a1a1a" stroke-width="1.0"/>
<text x="443.40" y="288.65" font-size="7.5" text-anchor="end" font-weight="normal" fill="#111" stroke="#111" stroke-width="0.22" >50</text>
<line x1="446.40" y1="320.40" x2="450.00" y2="320.40" stroke="#1a1a1a" stroke-width="1.0"/>
<text x="443.40" y="323.05" font-size="7.5" text-anchor="end" font-weight="normal" fill="#111" stroke="#111" stroke-width="0.22" >0</text>
<line x1="469.80" y1="320.40" x2="469.80" y2="323.50" stroke="#1a1a1a" stroke-width="1.0"/>
<line x1="502.60" y1="320.40" x2="502.60" y2="323.50" stroke="#1a1a1a" stroke-width="1.0"/>
<circle cx="469.75" cy="293.10" r="2.15" fill="#1a588c"/>
<circle cx="469.75" cy="301.25" r="2.15" fill="#1a588c"/>
<circle cx="465.60" cy="307.75" r="2.15" fill="#1a588c"/>
<circle cx="474.00" cy="307.75" r="2.15" fill="#1a588c"/>
<circle cx="502.50" cy="238.75" r="2.15" fill="#b8143b"/>
<circle cx="498.00" cy="246.25" r="2.15" fill="#b8143b"/>
<circle cx="507.00" cy="249.25" r="2.15" fill="#b8143b"/>
<circle cx="502.50" cy="269.25" r="2.15" fill="#b8143b"/>
<line x1="469.80" y1="295.40" x2="469.80" y2="311.00" stroke="#1a1a1a" stroke-width="0.95"/>
<line x1="463.80" y1="295.40" x2="475.80" y2="295.40" stroke="#1a1a1a" stroke-width="0.95"/>
<line x1="463.80" y1="311.00" x2="475.80" y2="311.00" stroke="#1a1a1a" stroke-width="0.95"/>
<line x1="502.60" y1="237.50" x2="502.60" y2="264.25" stroke="#1a1a1a" stroke-width="0.95"/>
<line x1="496.30" y1="237.50" x2="508.90" y2="237.50" stroke="#1a1a1a" stroke-width="0.95"/>
<line x1="496.30" y1="264.25" x2="508.90" y2="264.25" stroke="#1a1a1a" stroke-width="0.95"/>
<text x="488.10" y="224.20" font-size="7.5" text-anchor="middle" font-weight="normal" fill="#111" stroke="#111" stroke-width="0.22" >0.0286</text>
<line x1="470.00" y1="226.50" x2="504.50" y2="226.50" stroke="#1a1a1a" stroke-width="1.1"/>
<text transform="translate(425.00,269.30) rotate(-90)" font-size="8.2" text-anchor="middle" fill="#111" stroke="#111" stroke-width="0.2" textLength="56.40" lengthAdjust="spacingAndGlyphs">HA-interacting cells</text>
<text x="469.70" y="332.90" font-size="7.6" text-anchor="middle" font-weight="normal" fill="#111" stroke="#111" stroke-width="0.22" >Control</text>
<text x="502.60" y="332.90" font-size="7.6" text-anchor="middle" font-weight="normal" fill="#111" stroke="#111" stroke-width="0.22" >Malaria</text>
<text x="502.60" y="342.60" font-size="7.6" text-anchor="middle" font-weight="normal" fill="#111" stroke="#111" stroke-width="0.22" >patients</text>
<rect x="51.90" y="467.30" width="17.85" height="41.10" fill="#7fa2c7"/>
<rect x="79.40" y="433.30" width="18.10" height="75.10" fill="#efa2b3"/>
<rect x="107.00" y="480.40" width="18.00" height="28.00" fill="#d9546f"/>
<line x1="42.50" y1="401.50" x2="42.50" y2="509.00" stroke="#1a1a1a" stroke-width="1.2"/>
<line x1="41.90" y1="508.40" x2="134.00" y2="508.40" stroke="#1a1a1a" stroke-width="1.2"/>
<line x1="38.90" y1="405.60" x2="42.50" y2="405.60" stroke="#1a1a1a" stroke-width="1.0"/>
<text x="35.90" y="408.25" font-size="7.5" text-anchor="end" font-weight="normal" fill="#111" stroke="#111" stroke-width="0.22" >2.5</text>
<line x1="38.90" y1="426.20" x2="42.50" y2="426.20" stroke="#1a1a1a" stroke-width="1.0"/>
<text x="35.90" y="428.85" font-size="7.5" text-anchor="end" font-weight="normal" fill="#111" stroke="#111" stroke-width="0.22" >2.0</text>
<line x1="38.90" y1="446.70" x2="42.50" y2="446.70" stroke="#1a1a1a" stroke-width="1.0"/>
<text x="35.90" y="449.35" font-size="7.5" text-anchor="end" font-weight="normal" fill="#111" stroke="#111" stroke-width="0.22" >1.5</text>
<line x1="38.90" y1="467.30" x2="42.50" y2="467.30" stroke="#1a1a1a" stroke-width="1.0"/>
<text x="35.90" y="469.95" font-size="7.5" text-anchor="end" font-weight="normal" fill="#111" stroke="#111" stroke-width="0.22" >1.0</text>
<line x1="38.90" y1="487.90" x2="42.50" y2="487.90" stroke="#1a1a1a" stroke-width="1.0"/>
<text x="35.90" y="490.55" font-size="7.5" text-anchor="end" font-weight="normal" fill="#111" stroke="#111" stroke-width="0.22" >0.5</text>
<line x1="38.90" y1="508.40" x2="42.50" y2="508.40" stroke="#1a1a1a" stroke-width="1.0"/>
<text x="35.90" y="511.05" font-size="7.5" text-anchor="end" font-weight="normal" fill="#111" stroke="#111" stroke-width="0.22" >0.0</text>
<line x1="60.40" y1="508.40" x2="60.40" y2="511.50" stroke="#1a1a1a" stroke-width="1.0"/>
<line x1="88.50" y1="508.40" x2="88.50" y2="511.50" stroke="#1a1a1a" stroke-width="1.0"/>
<line x1="116.00" y1="508.40" x2="116.00" y2="511.50" stroke="#1a1a1a" stroke-width="1.0"/>
<circle cx="53.50" cy="467.50" r="2.15" fill="#1a588c"/>
<circle cx="55.83" cy="467.50" r="2.15" fill="#1a588c"/>
<circle cx="58.16" cy="467.50" r="2.15" fill="#1a588c"/>
<circle cx="60.49" cy="467.50" r="2.15" fill="#1a588c"/>
<circle cx="62.82" cy="467.50" r="2.15" fill="#1a588c"/>
<circle cx="65.15" cy="467.50" r="2.15" fill="#1a588c"/>
<circle cx="67.48" cy="467.50" r="2.15" fill="#1a588c"/>
<circle cx="88.00" cy="416.25" r="2.15" fill="#b8143b"/>
<circle cx="81.25" cy="428.00" r="2.15" fill="#b8143b"/>
<circle cx="86.25" cy="428.00" r="2.15" fill="#b8143b"/>
<circle cx="91.25" cy="428.75" r="2.15" fill="#b8143b"/>
<circle cx="95.50" cy="428.00" r="2.15" fill="#b8143b"/>
<circle cx="88.00" cy="447.50" r="2.15" fill="#b8143b"/>
<circle cx="88.00" cy="453.00" r="2.15" fill="#b8143b"/>
<circle cx="115.75" cy="465.00" r="2.15" fill="#b8143b"/>
<circle cx="115.75" cy="480.00" r="2.15" fill="#b8143b"/>
<circle cx="114.00" cy="484.00" r="2.15" fill="#b8143b"/>
<circle cx="115.75" cy="492.50" r="2.15" fill="#b8143b"/>
<line x1="88.50" y1="428.75" x2="88.50" y2="438.00" stroke="#1a1a1a" stroke-width="0.95"/>
<line x1="84.50" y1="428.75" x2="92.50" y2="428.75" stroke="#1a1a1a" stroke-width="0.95"/>
<line x1="84.50" y1="438.00" x2="92.50" y2="438.00" stroke="#1a1a1a" stroke-width="0.95"/>
<line x1="116.00" y1="474.50" x2="116.00" y2="487.00" stroke="#1a1a1a" stroke-width="0.95"/>
<line x1="111.70" y1="474.50" x2="120.30" y2="474.50" stroke="#1a1a1a" stroke-width="0.95"/>
<line x1="111.70" y1="487.00" x2="120.30" y2="487.00" stroke="#1a1a1a" stroke-width="0.95"/>
<text x="73.50" y="402.40" font-size="7.5" text-anchor="middle" font-weight="normal" fill="#111" stroke="#111" stroke-width="0.22" >0.0156</text>
<line x1="61.25" y1="404.50" x2="86.25" y2="404.50" stroke="#1a1a1a" stroke-width="1.1"/>
<text x="106.20" y="407.40" font-size="7.5" text-anchor="middle" font-weight="normal" fill="#111" stroke="#111" stroke-width="0.22" >0.1250</text>
<line x1="93.75" y1="409.50" x2="118.00" y2="409.50" stroke="#1a1a1a" stroke-width="1.1"/>
<text transform="translate(7.70,456.80) rotate(-90)" font-size="8.2" text-anchor="middle" fill="#111" stroke="#111" stroke-width="0.2" textLength="56.40" lengthAdjust="spacingAndGlyphs">HA-interacting cells</text>
<text transform="translate(19.80,456.90) rotate(-90)" font-size="8.2" text-anchor="middle" fill="#111" stroke="#111" stroke-width="0.2" textLength="60.60" lengthAdjust="spacingAndGlyphs">normalized to control</text>
<text x="60.90" y="520.60" font-size="7.6" text-anchor="middle" font-weight="normal" fill="#111" stroke="#111" stroke-width="0.22" >Control</text>
<text x="88.30" y="520.60" font-size="7.6" text-anchor="middle" font-weight="normal" fill="#111" stroke="#111" stroke-width="0.22" >CM</text>
<text x="115.80" y="520.60" font-size="7.6" text-anchor="middle" font-weight="normal" fill="#111" stroke="#111" stroke-width="0.22" >CM +</text>
<text x="115.80" y="530.30" font-size="7.6" text-anchor="middle" font-weight="normal" fill="#111" stroke="#111" stroke-width="0.22" >αCD44</text>
<rect x="51.00" y="617.40" width="16.90" height="40.50" fill="#a3bcd6"/>
<rect x="76.50" y="594.50" width="16.80" height="63.40" fill="#efa2b3"/>
<rect x="102.20" y="624.30" width="16.60" height="33.60" fill="#4b7ba9"/>
<rect x="128.00" y="619.00" width="16.40" height="38.90" fill="#d9546f"/>
<line x1="42.25" y1="552.20" x2="42.25" y2="658.50" stroke="#1a1a1a" stroke-width="1.2"/>
<line x1="41.65" y1="657.90" x2="153.70" y2="657.90" stroke="#1a1a1a" stroke-width="1.2"/>
<line x1="38.65" y1="556.30" x2="42.25" y2="556.30" stroke="#1a1a1a" stroke-width="1.0"/>
<text x="35.65" y="558.95" font-size="7.5" text-anchor="end" font-weight="normal" fill="#111" stroke="#111" stroke-width="0.22" >2.5</text>
<line x1="38.65" y1="576.60" x2="42.25" y2="576.60" stroke="#1a1a1a" stroke-width="1.0"/>
<text x="35.65" y="579.25" font-size="7.5" text-anchor="end" font-weight="normal" fill="#111" stroke="#111" stroke-width="0.22" >2.0</text>
<line x1="38.65" y1="597.00" x2="42.25" y2="597.00" stroke="#1a1a1a" stroke-width="1.0"/>
<text x="35.65" y="599.65" font-size="7.5" text-anchor="end" font-weight="normal" fill="#111" stroke="#111" stroke-width="0.22" >1.5</text>
<line x1="38.65" y1="617.40" x2="42.25" y2="617.40" stroke="#1a1a1a" stroke-width="1.0"/>
<text x="35.65" y="620.05" font-size="7.5" text-anchor="end" font-weight="normal" fill="#111" stroke="#111" stroke-width="0.22" >1.0</text>
<line x1="38.65" y1="637.80" x2="42.25" y2="637.80" stroke="#1a1a1a" stroke-width="1.0"/>
<text x="35.65" y="640.45" font-size="7.5" text-anchor="end" font-weight="normal" fill="#111" stroke="#111" stroke-width="0.22" >0.5</text>
<line x1="38.65" y1="657.90" x2="42.25" y2="657.90" stroke="#1a1a1a" stroke-width="1.0"/>
<text x="35.65" y="660.55" font-size="7.5" text-anchor="end" font-weight="normal" fill="#111" stroke="#111" stroke-width="0.22" >0.0</text>
<line x1="59.40" y1="657.90" x2="59.40" y2="661.00" stroke="#1a1a1a" stroke-width="1.0"/>
<line x1="84.80" y1="657.90" x2="84.80" y2="661.00" stroke="#1a1a1a" stroke-width="1.0"/>
<line x1="110.40" y1="657.90" x2="110.40" y2="661.00" stroke="#1a1a1a" stroke-width="1.0"/>
<line x1="136.20" y1="657.90" x2="136.20" y2="661.00" stroke="#1a1a1a" stroke-width="1.0"/>
<circle cx="53.00" cy="617.50" r="2.15" fill="#1a588c"/>
<circle cx="56.10" cy="617.50" r="2.15" fill="#1a588c"/>
<circle cx="59.20" cy="617.50" r="2.15" fill="#1a588c"/>
<circle cx="62.30" cy="617.50" r="2.15" fill="#1a588c"/>
<circle cx="65.40" cy="617.50" r="2.15" fill="#1a588c"/>
<circle cx="80.80" cy="579.00" r="2.15" fill="#b8143b"/>
<circle cx="88.80" cy="579.40" r="2.15" fill="#b8143b"/>
<circle cx="80.80" cy="601.20" r="2.15" fill="#b8143b"/>
<circle cx="88.80" cy="601.20" r="2.15" fill="#b8143b"/>
<circle cx="85.00" cy="611.50" r="2.15" fill="#b8143b"/>
<circle cx="110.40" cy="609.60" r="2.15" fill="#1a588c"/>
<circle cx="110.40" cy="618.80" r="2.15" fill="#1a588c"/>
<circle cx="106.20" cy="624.60" r="2.15" fill="#1a588c"/>
<circle cx="114.80" cy="628.50" r="2.15" fill="#1a588c"/>
<circle cx="110.40" cy="639.00" r="2.15" fill="#1a588c"/>
<circle cx="136.00" cy="585.80" r="2.15" fill="#b8143b"/>
<circle cx="131.50" cy="622.70" r="2.15" fill="#b8143b"/>
<circle cx="141.70" cy="622.70" r="2.15" fill="#b8143b"/>
<circle cx="136.00" cy="628.00" r="2.15" fill="#b8143b"/>
<circle cx="136.20" cy="640.60" r="2.15" fill="#b8143b"/>
<line x1="84.80" y1="587.70" x2="84.80" y2="601.20" stroke="#1a1a1a" stroke-width="0.95"/>
<line x1="80.60" y1="587.70" x2="89.00" y2="587.70" stroke="#1a1a1a" stroke-width="0.95"/>
<line x1="80.60" y1="601.20" x2="89.00" y2="601.20" stroke="#1a1a1a" stroke-width="0.95"/>
<line x1="110.40" y1="618.80" x2="110.40" y2="628.80" stroke="#1a1a1a" stroke-width="0.95"/>
<line x1="106.00" y1="618.80" x2="114.80" y2="618.80" stroke="#1a1a1a" stroke-width="0.95"/>
<line x1="106.00" y1="628.80" x2="114.80" y2="628.80" stroke="#1a1a1a" stroke-width="0.95"/>
<line x1="136.10" y1="610.20" x2="136.10" y2="628.00" stroke="#1a1a1a" stroke-width="0.95"/>
<line x1="131.40" y1="610.20" x2="140.80" y2="610.20" stroke="#1a1a1a" stroke-width="0.95"/>
<line x1="131.40" y1="628.00" x2="140.80" y2="628.00" stroke="#1a1a1a" stroke-width="0.95"/>
<text x="70.20" y="571.80" font-size="7.5" text-anchor="middle" font-weight="normal" fill="#111" stroke="#111" stroke-width="0.22" >0.0625</text>
<line x1="58.50" y1="572.50" x2="82.70" y2="572.50" stroke="#1a1a1a" stroke-width="1.1"/>
<text x="85.00" y="561.20" font-size="7.5" text-anchor="middle" font-weight="normal" fill="#111" stroke="#111" stroke-width="0.22" >0.1875</text>
<line x1="58.50" y1="562.50" x2="110.40" y2="562.50" stroke="#1a1a1a" stroke-width="1.1"/>
<text x="113.00" y="549.30" font-size="7.5" text-anchor="middle" font-weight="normal" fill="#111" stroke="#111" stroke-width="0.22" >0.0625</text>
<line x1="87.90" y1="551.50" x2="138.80" y2="551.50" stroke="#1a1a1a" stroke-width="1.1"/>
<text transform="translate(7.70,606.80) rotate(-90)" font-size="8.2" text-anchor="middle" fill="#111" stroke="#111" stroke-width="0.2" textLength="56.40" lengthAdjust="spacingAndGlyphs">HA-interacting cells</text>
<text transform="translate(19.80,607.00) rotate(-90)" font-size="8.2" text-anchor="middle" fill="#111" stroke="#111" stroke-width="0.2" textLength="60.80" lengthAdjust="spacingAndGlyphs">normalized to control</text>
<text x="59.60" y="670.40" font-size="7.6" text-anchor="middle" font-weight="normal" fill="#111" stroke="#111" stroke-width="0.22" >Control</text>
<text x="84.80" y="670.40" font-size="7.6" text-anchor="middle" font-weight="normal" fill="#111" stroke="#111" stroke-width="0.22" >CM</text>
<text x="110.30" y="670.30" font-size="7.6" text-anchor="middle" font-weight="normal" fill="#111" stroke="#111" stroke-width="0.22" >HI</text>
<text x="110.30" y="679.60" font-size="7.6" text-anchor="middle" font-weight="normal" fill="#111" stroke="#111" stroke-width="0.22" >control</text>
<text x="136.10" y="670.30" font-size="7.6" text-anchor="middle" font-weight="normal" fill="#111" stroke="#111" stroke-width="0.22" >HI CM</text>
<defs>
<linearGradient id="g1" x1="0" y1="0" x2="1" y2="1"><stop offset="0" stop-color="#8c8c8c"/><stop offset="1" stop-color="#6e6e6e"/></linearGradient>
<linearGradient id="g2" x1="0" y1="0.7" x2="1" y2="0.3"><stop offset="0" stop-color="#8f8f8f"/><stop offset="1" stop-color="#a3a3a3"/></linearGradient>
<linearGradient id="g3" x1="0" y1="0" x2="1" y2="1"><stop offset="0" stop-color="#7e7e7e"/><stop offset="1" stop-color="#666666"/></linearGradient>
<radialGradient id="bl"><stop offset="0" stop-color="#a6dcfa"/><stop offset="0.3" stop-color="#5aa9e0"/><stop offset="0.55" stop-color="#1c5a96" stop-opacity="0.8"/><stop offset="1" stop-color="#0a2a60" stop-opacity="0"/></radialGradient>
<g id="k1"><circle r="2.9" fill="#808080" stroke="#5e5e5e" stroke-width="0.9" opacity="0.9"/><circle cx="-1.0" cy="0.8" r="1.1" fill="#bcbcbc"/><circle cx="0.9" cy="-0.7" r="1.15" fill="#484848"/></g>
<g id="k2"><circle cx="-0.6" cy="0.6" r="3.2" fill="#c2c2c2" opacity="0.7"/><circle r="2.7" fill="#6c6c6c"/><circle cx="-0.1" cy="0.1" r="1.35" fill="#a0a0a0"/></g>
<g id="k3"><circle cx="-0.6" cy="0.6" r="3.4" fill="#969696" opacity="0.5"/><circle r="2.65" fill="#787878" stroke="#5c5c5c" stroke-width="0.9"/><circle cx="-0.7" cy="0.7" r="1.0" fill="#a4a4a4"/><circle cx="0.9" cy="-0.9" r="0.85" fill="#4a4a4a"/></g>
<radialGradient id="bl2"><stop offset="0" stop-color="#e4f3fc"/><stop offset="0.35" stop-color="#8cc2ea" stop-opacity="0.9"/><stop offset="1" stop-color="#7fb0d8" stop-opacity="0"/></radialGradient>
<filter id="soft" x="-5%" y="-5%" width="110%" height="110%"><feGaussianBlur stdDeviation="0.45"/></filter>
</defs>
<text x="294.70" y="415.20" font-size="9" text-anchor="middle" font-weight="normal" fill="#111" stroke="#111" stroke-width="0.22" >DIC</text>
<text x="384.80" y="415.20" font-size="9" text-anchor="middle" font-weight="normal" fill="#111" stroke="#111" stroke-width="0.22" >Hoechst (DAPI)</text>
<text x="475.20" y="415.20" font-size="9" text-anchor="middle" font-weight="normal" fill="#111" stroke="#111" stroke-width="0.22" >Merged</text>
<text x="247.00" y="459.00" font-size="9.2" text-anchor="end" font-weight="normal" fill="#111" stroke="#111" stroke-width="0.22" >MCM</text>
<text x="247.00" y="470.50" font-size="9.2" text-anchor="end" font-weight="normal" fill="#111" stroke="#111" stroke-width="0.22" >RBCs</text>
<text x="246.90" y="545.20" font-size="9.2" text-anchor="end" font-weight="normal" fill="#111" stroke="#111" stroke-width="0.22" >Malaria</text>
<text x="246.90" y="556.70" font-size="9.2" text-anchor="end" font-weight="normal" fill="#111" stroke="#111" stroke-width="0.22" >culture</text>
<text x="246.90" y="639.20" font-size="9.2" text-anchor="end" font-weight="normal" fill="#111" stroke="#111" stroke-width="0.22" >CM</text>
<clipPath id="c00"><rect x="251.5" y="420.1" width="86.0" height="82.20"/></clipPath>
<rect x="251.50" y="420.10" width="86.00" height="82.20" fill="url(#g1)"/>
<g clip-path="url(#c00)"><g filter="url(#soft)">
<use href="#k1" x="267.0" y="431.5"/>
<use href="#k1" x="280.3" y="436.7"/>
<use href="#k1" x="302.8" y="428.4"/>
<use href="#k1" x="310.9" y="430.5"/>
<use href="#k1" x="319.2" y="444.8"/>
<use href="#k1" x="321.8" y="445.7"/>
<use href="#k1" x="320.1" y="457.5"/>
<use href="#k1" x="255.7" y="454.3"/>
<use href="#k1" x="333.9" y="474.8"/>
<use href="#k1" x="315.4" y="481.5"/>
<use href="#k1" x="293.3" y="488.1"/>
<use href="#k1" x="280.8" y="489.8"/>
<use href="#k1" x="264.7" y="490.7"/>
<use href="#k1" x="262.1" y="493.6"/>
<use href="#k1" x="294.1" y="498.0"/>
<use href="#k1" x="312.3" y="498.5"/>
<use href="#k1" x="326.2" y="489.0"/>
</g></g>
<text x="336.50" y="495.40" font-size="5.9" text-anchor="end" font-weight="normal" fill="#fff" stroke="#fff" stroke-width="0.22" >20 μm</text>
<line x1="321.80" y1="499.70" x2="336.20" y2="499.70" stroke="#fff" stroke-width="0.9"/>
<line x1="321.80" y1="498.40" x2="321.80" y2="501.00" stroke="#fff" stroke-width="0.7"/>
<line x1="336.20" y1="498.40" x2="336.20" y2="501.00" stroke="#fff" stroke-width="0.7"/>
<clipPath id="c01"><rect x="341.0" y="420.1" width="87.3" height="82.20"/></clipPath>
<rect x="341.00" y="420.10" width="87.30" height="82.20" fill="#010101"/>
<text x="427.30" y="495.40" font-size="5.9" text-anchor="end" font-weight="normal" fill="#fff" stroke="#fff" stroke-width="0.22" >20 μm</text>
<line x1="412.60" y1="499.70" x2="427.00" y2="499.70" stroke="#fff" stroke-width="0.9"/>
<line x1="412.60" y1="498.40" x2="412.60" y2="501.00" stroke="#fff" stroke-width="0.7"/>
<line x1="427.00" y1="498.40" x2="427.00" y2="501.00" stroke="#fff" stroke-width="0.7"/>
<clipPath id="c02"><rect x="432.2" y="420.1" width="85.8" height="82.20"/></clipPath>
<rect x="432.20" y="420.10" width="85.80" height="82.20" fill="url(#g1)"/>
<g clip-path="url(#c02)"><g filter="url(#soft)">
<use href="#k1" x="447.7" y="431.5"/>
<use href="#k1" x="461.0" y="436.7"/>
<use href="#k1" x="483.5" y="428.4"/>
<use href="#k1" x="491.6" y="430.5"/>
<use href="#k1" x="499.9" y="444.8"/>
<use href="#k1" x="502.5" y="445.7"/>
<use href="#k1" x="500.8" y="457.5"/>
<use href="#k1" x="436.4" y="454.3"/>
<use href="#k1" x="514.6" y="474.8"/>
<use href="#k1" x="496.1" y="481.5"/>
<use href="#k1" x="474.0" y="488.1"/>
<use href="#k1" x="461.5" y="489.8"/>
<use href="#k1" x="445.4" y="490.7"/>
<use href="#k1" x="442.8" y="493.6"/>
<use href="#k1" x="474.8" y="498.0"/>
<use href="#k1" x="493.0" y="498.5"/>
<use href="#k1" x="506.9" y="489.0"/>
</g></g>
<text x="517.00" y="495.40" font-size="5.9" text-anchor="end" font-weight="normal" fill="#fff" stroke="#fff" stroke-width="0.22" >20 μm</text>
<line x1="502.30" y1="499.70" x2="516.70" y2="499.70" stroke="#fff" stroke-width="0.9"/>
<line x1="502.30" y1="498.40" x2="502.30" y2="501.00" stroke="#fff" stroke-width="0.7"/>
<line x1="516.70" y1="498.40" x2="516.70" y2="501.00" stroke="#fff" stroke-width="0.7"/>
<text x="254.90" y="431.10" font-size="9.6" text-anchor="start" font-weight="bold" fill="#fff" stroke="#fff" stroke-width="0.22" >i</text>
<clipPath id="c10"><rect x="251.5" y="506.4" width="86.0" height="82.80"/></clipPath>
<rect x="251.50" y="506.40" width="86.00" height="82.80" fill="url(#g2)"/>
<g clip-path="url(#c10)"><g filter="url(#soft)">
<use href="#k2" x="253.5" y="513.5"/>
<use href="#k2" x="261.8" y="508.3"/>
<use href="#k2" x="276.3" y="510.1"/>
<use href="#k2" x="296.7" y="508.8"/>
<use href="#k2" x="268.2" y="515.8"/>
<use href="#k2" x="313.7" y="515.2"/>
<use href="#k2" x="268.7" y="524.4"/>
<use href="#k2" x="276.0" y="526.2"/>
<use href="#k2" x="287.2" y="522.2"/>
<use href="#k2" x="296.7" y="521.0"/>
<use href="#k2" x="306.8" y="523.4"/>
<use href="#k2" x="318.4" y="522.7"/>
<use href="#k2" x="325.3" y="521.0"/>
<use href="#k2" x="332.2" y="525.1"/>
<use href="#k2" x="279.8" y="532.0"/>
<use href="#k2" x="274.2" y="534.8"/>
<use href="#k2" x="313.7" y="532.6"/>
<use href="#k2" x="285.5" y="538.6"/>
<use href="#k2" x="291.5" y="536.9"/>
<use href="#k2" x="255.2" y="545.2"/>
<use href="#k2" x="264.2" y="543.5"/>
<use href="#k2" x="272.5" y="549.3"/>
<use href="#k2" x="292.4" y="547.3"/>
<use href="#k2" x="301.1" y="542.9"/>
<use href="#k2" x="324.8" y="545.0"/>
<use href="#k2" x="336.5" y="545.5"/>
<use href="#k2" x="282.5" y="553.3"/>
<use href="#k2" x="298.5" y="555.9"/>
<use href="#k2" x="308.8" y="554.2"/>
<use href="#k2" x="317.5" y="551.6"/>
<use href="#k2" x="327.9" y="553.3"/>
<use href="#k2" x="267.0" y="556.8"/>
<use href="#k2" x="271.6" y="559.4"/>
<use href="#k2" x="286.0" y="562.0"/>
<use href="#k2" x="321.8" y="561.1"/>
<use href="#k2" x="327.0" y="559.7"/>
<use href="#k2" x="334.5" y="565.4"/>
<use href="#k2" x="266.4" y="564.6"/>
<use href="#k2" x="257.8" y="567.2"/>
<use href="#k2" x="264.7" y="570.6"/>
<use href="#k2" x="283.8" y="572.9"/>
<use href="#k2" x="314.9" y="570.6"/>
<use href="#k2" x="327.9" y="571.5"/>
<use href="#k2" x="253.1" y="574.1"/>
<use href="#k2" x="276.0" y="575.0"/>
<use href="#k2" x="301.6" y="575.3"/>
<use href="#k2" x="308.5" y="577.6"/>
<use href="#k2" x="332.2" y="577.6"/>
<use href="#k2" x="267.3" y="580.2"/>
<use href="#k2" x="277.7" y="581.9"/>
<use href="#k2" x="301.1" y="581.9"/>
<use href="#k2" x="263.8" y="584.5"/>
<use href="#k2" x="267.3" y="586.7"/>
</g></g>
<text x="336.50" y="582.30" font-size="5.9" text-anchor="end" font-weight="normal" fill="#fff" stroke="#fff" stroke-width="0.22" >20 μm</text>
<line x1="321.80" y1="586.60" x2="336.20" y2="586.60" stroke="#fff" stroke-width="0.9"/>
<line x1="321.80" y1="585.30" x2="321.80" y2="587.90" stroke="#fff" stroke-width="0.7"/>
<line x1="336.20" y1="585.30" x2="336.20" y2="587.90" stroke="#fff" stroke-width="0.7"/>
<clipPath id="c11"><rect x="341.0" y="506.4" width="87.3" height="82.80"/></clipPath>
<rect x="341.00" y="506.40" width="87.30" height="82.80" fill="#020305"/>
<circle cx="364.9" cy="527.0" r="3.6" fill="url(#bl)" opacity="1"/>
<circle cx="422" cy="526.5" r="2.2" fill="url(#bl)" opacity="0.75"/>
<circle cx="398.8" cy="555.2" r="0.9" fill="#6a7f95"/>
<circle cx="360.8" cy="549" r="0.8" fill="#3a4250"/>
<circle cx="404" cy="517.8" r="0.8" fill="#2c3540"/>
<circle cx="406.5" cy="552" r="0.7" fill="#2a3038"/>
<text x="427.30" y="582.30" font-size="5.9" text-anchor="end" font-weight="normal" fill="#fff" stroke="#fff" stroke-width="0.22" >20 μm</text>
<line x1="412.60" y1="586.60" x2="427.00" y2="586.60" stroke="#fff" stroke-width="0.9"/>
<line x1="412.60" y1="585.30" x2="412.60" y2="587.90" stroke="#fff" stroke-width="0.7"/>
<line x1="427.00" y1="585.30" x2="427.00" y2="587.90" stroke="#fff" stroke-width="0.7"/>
<clipPath id="c12"><rect x="432.2" y="506.4" width="85.8" height="82.80"/></clipPath>
<rect x="432.20" y="506.40" width="85.80" height="82.80" fill="url(#g2)"/>
<g clip-path="url(#c12)"><g filter="url(#soft)">
<use href="#k2" x="434.2" y="513.5"/>
<use href="#k2" x="442.5" y="508.3"/>
<use href="#k2" x="457.0" y="510.1"/>
<use href="#k2" x="477.4" y="508.8"/>
<use href="#k2" x="448.9" y="515.8"/>
<use href="#k2" x="494.4" y="515.2"/>
<use href="#k2" x="449.4" y="524.4"/>
<use href="#k2" x="456.7" y="526.2"/>
<use href="#k2" x="467.9" y="522.2"/>
<use href="#k2" x="477.4" y="521.0"/>
<use href="#k2" x="487.5" y="523.4"/>
<use href="#k2" x="499.1" y="522.7"/>
<use href="#k2" x="506.0" y="521.0"/>
<use href="#k2" x="512.9" y="525.1"/>
<use href="#k2" x="460.5" y="532.0"/>
<use href="#k2" x="454.9" y="534.8"/>
<use href="#k2" x="494.4" y="532.6"/>
<use href="#k2" x="466.2" y="538.6"/>
<use href="#k2" x="472.2" y="536.9"/>
<use href="#k2" x="435.9" y="545.2"/>
<use href="#k2" x="444.9" y="543.5"/>
<use href="#k2" x="453.2" y="549.3"/>
<use href="#k2" x="473.1" y="547.3"/>
<use href="#k2" x="481.8" y="542.9"/>
<use href="#k2" x="505.5" y="545.0"/>
<use href="#k2" x="517.2" y="545.5"/>
<use href="#k2" x="463.2" y="553.3"/>
<use href="#k2" x="479.2" y="555.9"/>
<use href="#k2" x="489.5" y="554.2"/>
<use href="#k2" x="498.2" y="551.6"/>
<use href="#k2" x="508.6" y="553.3"/>
<use href="#k2" x="447.7" y="556.8"/>
<use href="#k2" x="452.3" y="559.4"/>
<use href="#k2" x="466.7" y="562.0"/>
<use href="#k2" x="502.5" y="561.1"/>
<use href="#k2" x="507.7" y="559.7"/>
<use href="#k2" x="515.2" y="565.4"/>
<use href="#k2" x="447.1" y="564.6"/>
<use href="#k2" x="438.5" y="567.2"/>
<use href="#k2" x="445.4" y="570.6"/>
<use href="#k2" x="464.4" y="572.9"/>
<use href="#k2" x="495.6" y="570.6"/>
<use href="#k2" x="508.6" y="571.5"/>
<use href="#k2" x="433.8" y="574.1"/>
<use href="#k2" x="456.7" y="575.0"/>
<use href="#k2" x="482.3" y="575.3"/>
<use href="#k2" x="489.2" y="577.6"/>
<use href="#k2" x="512.9" y="577.6"/>
<use href="#k2" x="448.0" y="580.2"/>
<use href="#k2" x="458.4" y="581.9"/>
<use href="#k2" x="481.8" y="581.9"/>
<use href="#k2" x="444.5" y="584.5"/>
<use href="#k2" x="448.0" y="586.7"/>
<circle cx="455.8" cy="527.2" r="3.4" fill="url(#bl2)"/>
</g></g>
<text x="517.00" y="582.30" font-size="5.9" text-anchor="end" font-weight="normal" fill="#fff" stroke="#fff" stroke-width="0.22" >20 μm</text>
<line x1="502.30" y1="586.60" x2="516.70" y2="586.60" stroke="#fff" stroke-width="0.9"/>
<line x1="502.30" y1="585.30" x2="502.30" y2="587.90" stroke="#fff" stroke-width="0.7"/>
<line x1="516.70" y1="585.30" x2="516.70" y2="587.90" stroke="#fff" stroke-width="0.7"/>
<text x="254.90" y="517.40" font-size="9.6" text-anchor="start" font-weight="bold" fill="#fff" stroke="#fff" stroke-width="0.22" >ii</text>
<clipPath id="c20"><rect x="251.5" y="593.3" width="86.0" height="86.30"/></clipPath>
<rect x="251.50" y="593.30" width="86.00" height="86.30" fill="url(#g3)"/>
<g clip-path="url(#c20)"><g filter="url(#soft)">
<use href="#k3" x="300.2" y="597.8"/>
<use href="#k3" x="305.4" y="600.7"/>
<use href="#k3" x="314.0" y="603.0"/>
<use href="#k3" x="320.1" y="605.6"/>
<use href="#k3" x="332.2" y="602.1"/>
<use href="#k3" x="276.8" y="601.2"/>
<use href="#k3" x="267.3" y="604.7"/>
<use href="#k3" x="272.5" y="606.4"/>
<use href="#k3" x="286.3" y="606.4"/>
<use href="#k3" x="267.3" y="611.6"/>
<use href="#k3" x="256.1" y="614.2"/>
<use href="#k3" x="282.0" y="620.3"/>
<use href="#k3" x="294.1" y="619.8"/>
<use href="#k3" x="315.8" y="621.2"/>
<use href="#k3" x="321.3" y="622.0"/>
<use href="#k3" x="330.5" y="628.1"/>
<use href="#k3" x="297.6" y="630.7"/>
<use href="#k3" x="268.2" y="631.5"/>
<use href="#k3" x="277.7" y="634.1"/>
<use href="#k3" x="282.0" y="635.3"/>
<use href="#k3" x="259.5" y="635.3"/>
<use href="#k3" x="255.2" y="640.2"/>
<use href="#k3" x="263.0" y="642.8"/>
<use href="#k3" x="276.0" y="640.2"/>
<use href="#k3" x="270.4" y="645.4"/>
<use href="#k3" x="287.2" y="645.0"/>
<use href="#k3" x="294.1" y="643.7"/>
<use href="#k3" x="307.1" y="638.5"/>
<use href="#k3" x="314.9" y="641.1"/>
<use href="#k3" x="323.6" y="637.6"/>
<use href="#k3" x="324.8" y="645.4"/>
<use href="#k3" x="332.2" y="643.7"/>
<use href="#k3" x="305.4" y="653.2"/>
<use href="#k3" x="288.9" y="655.8"/>
<use href="#k3" x="298.5" y="656.6"/>
<use href="#k3" x="301.9" y="661.0"/>
<use href="#k3" x="306.2" y="661.0"/>
<use href="#k3" x="314.0" y="659.2"/>
<use href="#k3" x="325.3" y="659.2"/>
<use href="#k3" x="336.5" y="658.4"/>
<use href="#k3" x="256.1" y="656.6"/>
<use href="#k3" x="264.7" y="658.4"/>
<use href="#k3" x="253.8" y="666.2"/>
<use href="#k3" x="271.6" y="666.2"/>
<use href="#k3" x="276.0" y="668.8"/>
<use href="#k3" x="287.2" y="663.6"/>
<use href="#k3" x="270.8" y="674.8"/>
<use href="#k3" x="292.4" y="674.8"/>
<use href="#k3" x="300.2" y="673.9"/>
<use href="#k3" x="311.4" y="674.8"/>
<use href="#k3" x="309.7" y="670.5"/>
</g></g>
<text x="336.50" y="672.70" font-size="5.9" text-anchor="end" font-weight="normal" fill="#fff" stroke="#fff" stroke-width="0.22" >20 μm</text>
<line x1="321.80" y1="677.00" x2="336.20" y2="677.00" stroke="#fff" stroke-width="0.9"/>
<line x1="321.80" y1="675.70" x2="321.80" y2="678.30" stroke="#fff" stroke-width="0.7"/>
<line x1="336.20" y1="675.70" x2="336.20" y2="678.30" stroke="#fff" stroke-width="0.7"/>
<clipPath id="c21"><rect x="341.0" y="593.3" width="87.3" height="86.30"/></clipPath>
<rect x="341.00" y="593.30" width="87.30" height="86.30" fill="#010101"/>
<text x="427.30" y="672.70" font-size="5.9" text-anchor="end" font-weight="normal" fill="#fff" stroke="#fff" stroke-width="0.22" >20 μm</text>
<line x1="412.60" y1="677.00" x2="427.00" y2="677.00" stroke="#fff" stroke-width="0.9"/>
<line x1="412.60" y1="675.70" x2="412.60" y2="678.30" stroke="#fff" stroke-width="0.7"/>
<line x1="427.00" y1="675.70" x2="427.00" y2="678.30" stroke="#fff" stroke-width="0.7"/>
<clipPath id="c22"><rect x="432.2" y="593.3" width="85.8" height="86.30"/></clipPath>
<rect x="432.20" y="593.30" width="85.80" height="86.30" fill="url(#g3)"/>
<g clip-path="url(#c22)"><g filter="url(#soft)">
<use href="#k3" x="480.9" y="597.8"/>
<use href="#k3" x="486.1" y="600.7"/>
<use href="#k3" x="494.7" y="603.0"/>
<use href="#k3" x="500.8" y="605.6"/>
<use href="#k3" x="512.9" y="602.1"/>
<use href="#k3" x="457.5" y="601.2"/>
<use href="#k3" x="448.0" y="604.7"/>
<use href="#k3" x="453.2" y="606.4"/>
<use href="#k3" x="467.0" y="606.4"/>
<use href="#k3" x="448.0" y="611.6"/>
<use href="#k3" x="436.8" y="614.2"/>
<use href="#k3" x="462.7" y="620.3"/>
<use href="#k3" x="474.8" y="619.8"/>
<use href="#k3" x="496.5" y="621.2"/>
<use href="#k3" x="502.0" y="622.0"/>
<use href="#k3" x="511.2" y="628.1"/>
<use href="#k3" x="478.3" y="630.7"/>
<use href="#k3" x="448.9" y="631.5"/>
<use href="#k3" x="458.4" y="634.1"/>
<use href="#k3" x="462.7" y="635.3"/>
<use href="#k3" x="440.2" y="635.3"/>
<use href="#k3" x="435.9" y="640.2"/>
<use href="#k3" x="443.7" y="642.8"/>
<use href="#k3" x="456.7" y="640.2"/>
<use href="#k3" x="451.1" y="645.4"/>
<use href="#k3" x="467.9" y="645.0"/>
<use href="#k3" x="474.8" y="643.7"/>
<use href="#k3" x="487.8" y="638.5"/>
<use href="#k3" x="495.6" y="641.1"/>
<use href="#k3" x="504.3" y="637.6"/>
<use href="#k3" x="505.5" y="645.4"/>
<use href="#k3" x="512.9" y="643.7"/>
<use href="#k3" x="486.1" y="653.2"/>
<use href="#k3" x="469.6" y="655.8"/>
<use href="#k3" x="479.2" y="656.6"/>
<use href="#k3" x="482.6" y="661.0"/>
<use href="#k3" x="486.9" y="661.0"/>
<use href="#k3" x="494.7" y="659.2"/>
<use href="#k3" x="506.0" y="659.2"/>
<use href="#k3" x="517.2" y="658.4"/>
<use href="#k3" x="436.8" y="656.6"/>
<use href="#k3" x="445.4" y="658.4"/>
<use href="#k3" x="434.5" y="666.2"/>
<use href="#k3" x="452.3" y="666.2"/>
<use href="#k3" x="456.7" y="668.8"/>
<use href="#k3" x="467.9" y="663.6"/>
<use href="#k3" x="451.5" y="674.8"/>
<use href="#k3" x="473.1" y="674.8"/>
<use href="#k3" x="480.9" y="673.9"/>
<use href="#k3" x="492.1" y="674.8"/>
<use href="#k3" x="490.4" y="670.5"/>
</g></g>
<text x="517.00" y="672.70" font-size="5.9" text-anchor="end" font-weight="normal" fill="#fff" stroke="#fff" stroke-width="0.22" >20 μm</text>
<line x1="502.30" y1="677.00" x2="516.70" y2="677.00" stroke="#fff" stroke-width="0.9"/>
<line x1="502.30" y1="675.70" x2="502.30" y2="678.30" stroke="#fff" stroke-width="0.7"/>
<line x1="516.70" y1="675.70" x2="516.70" y2="678.30" stroke="#fff" stroke-width="0.7"/>
<text x="254.90" y="604.30" font-size="9.6" text-anchor="start" font-weight="bold" fill="#fff" stroke="#fff" stroke-width="0.22" >iii</text>
</svg></body></html>
